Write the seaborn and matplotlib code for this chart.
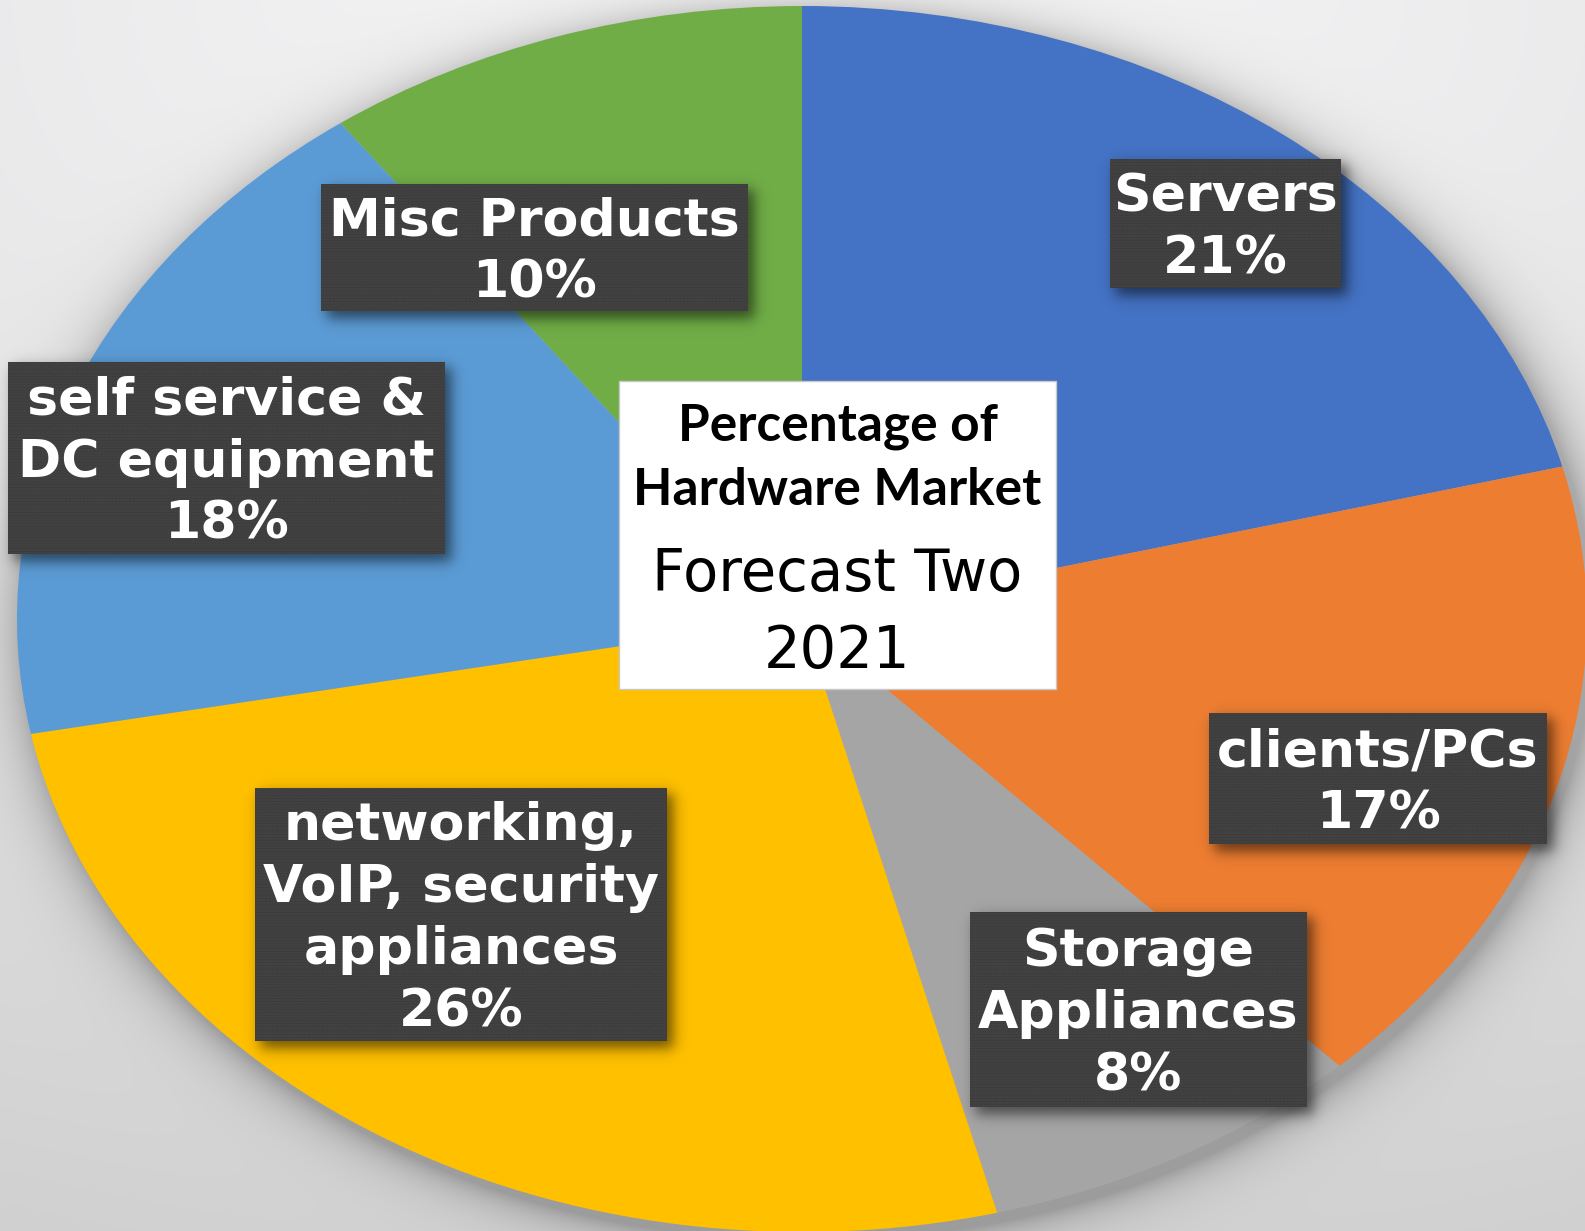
import numpy as np
import matplotlib
matplotlib.use("Agg")
import matplotlib.pyplot as plt
from matplotlib.patches import Rectangle
from matplotlib.transforms import Affine2D
import seaborn as sns

# ---- data -------------------------------------------------------------
segments = ["Servers", "clients/PCs", "Storage Appliances",
            "networking, VoIP, security appliances",
            "self service & DC equipment", "Misc Products"]
shares = [21, 17, 8, 26, 18, 10]
label_lines = [["Servers"], ["clients/PCs"], ["Storage", "Appliances"],
               ["networking,", "VoIP, security", "appliances"],
               ["self service &", "DC equipment"], ["Misc Products"]]
slice_colors = ["#4472C4", "#ED7D31", "#A5A5A5", "#FFC000", "#5B9BD5", "#70AD47"]
title_lines = ["Percentage of", "Hardware Market"]
subtitle_lines = ["Forecast Two", "2021"]

# ---- layout (pixels, origin top-left) ---------------------------------
W, H, DPI = 1585, 1231, 100
CX, CY, RX, RY = 802, 619, 785, 613          # elliptical pie placement
label_boxes = [(1110, 159, 1341, 288),
               (1209, 713, 1547, 844),
               (970, 912, 1307, 1107),
               (255, 788, 667, 1041),
               (8, 362, 445, 554),
               (321, 184, 748, 311)]
title_box = (619, 381, 1056, 689)
LINE_STEP = 62

sns.set_theme(style="white")
palette = sns.color_palette(slice_colors)
plt.rcParams["hatch.linewidth"] = 1.2

fig = plt.figure(figsize=(W / DPI, H / DPI), dpi=DPI)
ax = fig.add_axes([0, 0, 1, 1])
px = Affine2D().scale(1 / W, -1 / H).translate(0, 1) + fig.transFigure

# ---- background gradient with soft shadow under the pie ----------------
yy, xx = np.mgrid[0:H, 0:W].astype(float)
dist = np.hypot((xx - 800) * 0.6, yy)
val = 0.965 - 0.16 * np.clip(dist / 1400, 0, 1.2) ** 1.2
r = np.hypot((xx - CX - 6) / RX, (yy - CY - 8) / RY)
d = np.clip(r - 1, 0, None) * 700
shade = 0.26 * np.exp(-d / 22)
val = val * (1 - shade)
bg = np.dstack([val, val, val * 1.005]).clip(0, 1)

xlim = (-CX / RX, (W - CX) / RX)
ylim = (-(H - CY) / RY, CY / RY)
ax.imshow(bg, extent=[xlim[0], xlim[1], ylim[0], ylim[1]],
          aspect="auto", origin="upper", zorder=0, interpolation="bilinear")

# ---- pie ----------------------------------------------------------------
ax.pie(shares, colors=palette, startangle=90, counterclock=False, radius=1,
       wedgeprops=dict(linewidth=0, zorder=1))
ax.set_aspect("auto")
ax.set_xlim(*xlim)
ax.set_ylim(*ylim)
ax.set_axis_off()

# ---- soft drop shadows for the label boxes --------------------------------
def sig(t):
    return 1 / (1 + np.exp(-t))

shadow_a = np.zeros((H, W))
for (x0, y0, x1, y1) in label_boxes:
    s = 4.0
    sx = sig((xx - (x0 + 5)) / s) * sig(((x1 + 6) - xx) / s)
    sy = sig((yy - (y0 + 5)) / s) * sig(((y1 + 7) - yy) / s)
    shadow_a = np.maximum(shadow_a, 0.55 * sx * sy)
overlay = np.zeros((H, W, 4))
overlay[..., 3] = shadow_a
ax.imshow(overlay, extent=[xlim[0], xlim[1], ylim[0], ylim[1]],
          aspect="auto", origin="upper", zorder=2, interpolation="bilinear")

# ---- label boxes -------------------------------------------------------
LABEL_PT = 37.5
em = LABEL_PT * DPI / 72
for lines, share, (x0, y0, x1, y1) in zip(label_lines, shares, label_boxes):
    rect = Rectangle((x0, y0), x1 - x0, y1 - y0, transform=px,
                     facecolor="#3b3b3b", edgecolor="#474747", hatch="......",
                     linewidth=0, zorder=3)
    fig.patches.append(rect)
    rows = lines + [f"{share}%"]
    yc = (y0 + y1) / 2
    n = len(rows)
    for i, row in enumerate(rows):
        y = yc + (i - (n - 1) / 2) * LINE_STEP + 0.36 * em
        fig.text((x0 + x1) / 2, y, row, transform=px, ha="center", va="baseline",
                 color="white", fontsize=LABEL_PT, fontweight="bold",
                 family="DejaVu Sans", zorder=5)

# ---- centre title box ----------------------------------------------------
x0, y0, x1, y1 = title_box
fig.patches.append(Rectangle((x0, y0), x1 - x0, y1 - y0, transform=px,
                             facecolor="white", edgecolor="#c8c8c8",
                             linewidth=1, zorder=3))
xc = (x0 + x1) / 2
for txt, yc in zip(title_lines, [423, 487]):
    fig.text(xc, yc + 18, txt, transform=px, ha="center", va="baseline",
             color="black", fontsize=37, fontweight="bold", family="Lato",
             zorder=5)
for txt, yc in zip(subtitle_lines, [570, 647]):
    fig.text(xc, yc + 21, txt, transform=px, ha="center", va="baseline",
             color="black", fontsize=41.5, family="DejaVu Sans", zorder=5)

fig.savefig("out.png", dpi=DPI)
